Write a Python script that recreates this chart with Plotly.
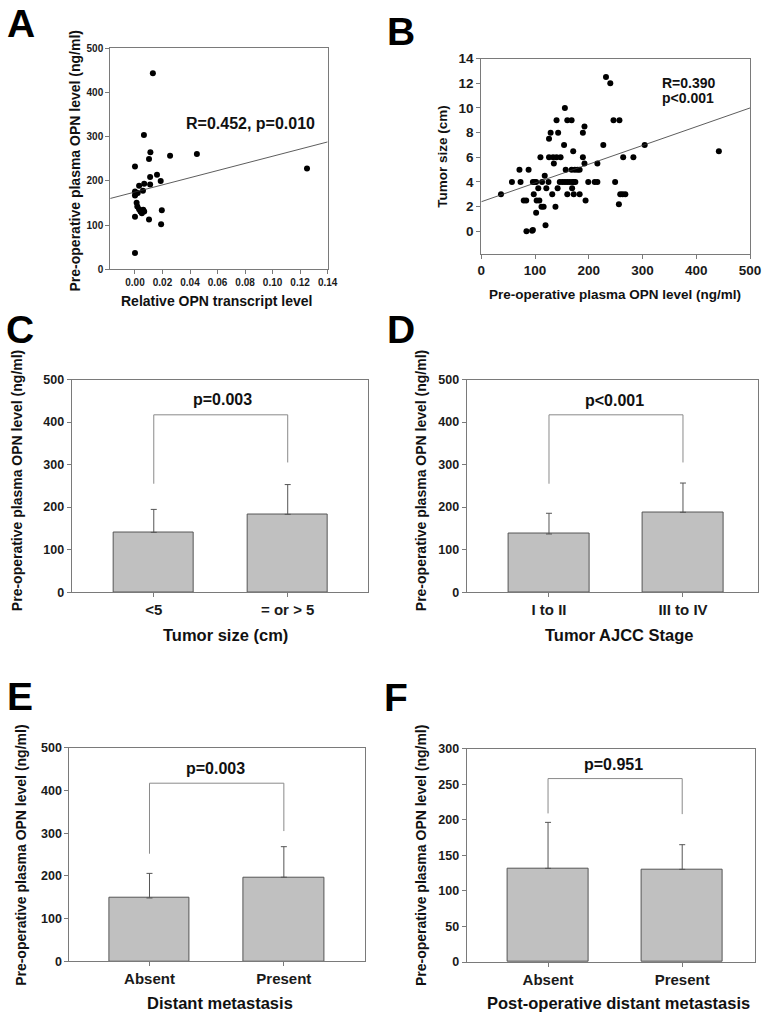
import plotly.graph_objects as go

W, H = 777, 1022
FONT = "Liberation Sans, Arial, sans-serif"
YTITLE = "Pre-operative plasma OPN level (ng/ml)"

# ---------------- Panel A data ----------------
a_transcript = [0.013, 0.0065, 0.0112, 0.0102, 0.0255, 0.045, 0.125, 0.0, 0.016, 0.011,
                0.0187, 0.011, 0.0067, 0.003, 0.0058, 0.0, 0.0004, 0.002, 0.0, 0.0012,
                0.0017, 0.003, 0.004, 0.005, 0.0067, 0.006, 0.0, 0.0102, 0.0195, 0.019, 0.0]
a_opn = [444, 304, 265, 250, 257, 261, 228, 233, 214, 209,
         200, 192, 194, 189, 178, 176, 170, 173, 167, 151,
         142, 136, 131, 127, 131, 135, 119, 113, 134, 102, 37]
a_fit_intercept, a_fit_slope = 175, 810
a_fit_x = [-0.018, 0.14]
a_label = "R=0.452, p=0.010"

# ---------------- Panel B data ----------------
b_opn = [232, 240, 442, 155.5, 140, 160, 168, 246, 257, 192, 129, 143, 189, 126, 154, 227, 304,
         171, 110, 126, 133.5, 140, 147.5, 189, 264, 283, 135, 192, 216, 71, 88, 157, 168, 174,
         179, 183, 118, 57, 73, 96, 99, 102, 113, 125, 146, 151, 155.5, 160, 164.6, 169.5, 172,
         175, 199, 211, 216, 249, 106, 121, 142, 169, 36.6, 97.6, 132, 160, 172, 183, 258.5, 263,
         268, 79, 83.5, 103, 108, 194, 112, 116, 138, 256, 102, 119.5, 84, 94.5, 96]
b_size = [12.5, 12, 6.5, 10, 9, 9, 9, 9, 9, 8.5, 8, 8, 8, 7.5, 7, 7, 7,
          6.5, 6, 6, 6, 6, 6, 6, 6, 6, 5.5, 5.5, 5.5, 5, 5, 5, 5, 5,
          5, 5, 4.5, 4, 4, 4, 4, 4, 4, 4, 4, 4, 4, 4, 4, 4, 4,
          4, 4, 4, 4, 4, 3.5, 3.5, 3.5, 3.5, 3, 3, 3, 3, 3, 3, 3, 3,
          3, 2.5, 2.5, 2.5, 2.5, 2.5, 2, 2, 2, 2.2, 1.5, 0.5, 0, 0.05, 0.1]
b_fit_intercept, b_fit_slope = 2.4, 0.0152
b_fit_x = [0, 500]
b_label1, b_label2 = "R=0.390", "p<0.001"

# ---------------- Bar panels ----------------
c_cats = ["<5", "= or > 5"]
c_mean = [140.6, 183]
c_err = [54, 70]
c_bracket = [255, 305, 417]
c_p = "p=0.003"
c_xtitle = "Tumor size (cm)"

d_cats = ["I to II", "III to IV"]
d_mean = [136.8, 187.8]
d_err = [48.7, 68.8]
d_bracket = [255, 305, 417]
d_p = "p<0.001"
d_xtitle = "Tumor AJCC Stage"

e_cats = ["Absent", "Present"]
e_mean = [148.5, 197]
e_err = [57.5, 71.5]
e_bracket = [252, 305, 417]
e_p = "p=0.003"
e_xtitle = "Distant metastasis"

f_cats = ["Absent", "Present"]
f_mean = [131.7, 130.3]
f_err = [64.7, 34.7]
f_bracket = [209, 208, 258]
f_p = "p=0.951"
f_xtitle = "Post-operative distant metastasis"


def px_x(a, b):
    return [a / W, b / W]


def px_y(top, bottom):
    return [1 - bottom / H, 1 - top / H]


AX_LINE = "#7a7a7a"
TICK_COL = "#1a1a1a"


def axis(domain, anchor, size=10, **kw):
    d = dict(domain=domain, anchor=anchor, showline=True, mirror=True, linecolor=AX_LINE,
             linewidth=1, ticks="outside", ticklen=4, tickcolor=AX_LINE, showgrid=False,
             zeroline=False, tickfont=dict(family=FONT, size=size, color=TICK_COL, weight="bold"))
    d.update(kw)
    return d


fig = go.Figure()
annotations = []


def add_text(text, x, y, size, xref="paper", yref="paper", textangle=0, xanchor="center",
             color="#111111"):
    annotations.append(dict(text=text, x=x, y=y, xref=xref, yref=yref, showarrow=False,
                            textangle=textangle, xanchor=xanchor, yanchor="middle",
                            font=dict(family=FONT, size=size, color=color, weight="bold")))


def pxa(x, y):
    return x / W, 1 - y / H


# Panel A
fig.add_trace(go.Scatter(x=a_transcript, y=a_opn, mode="markers", xaxis="x", yaxis="y",
                         marker=dict(color="black", size=6), showlegend=False))
fig.add_trace(go.Scatter(x=a_fit_x, y=[a_fit_intercept + a_fit_slope * v for v in a_fit_x],
                         mode="lines", xaxis="x", yaxis="y",
                         line=dict(color="#333333", width=0.8), showlegend=False))
# Panel B
fig.add_trace(go.Scatter(x=b_opn, y=b_size, mode="markers", xaxis="x2", yaxis="y2",
                         marker=dict(color="black", size=6), showlegend=False))
fig.add_trace(go.Scatter(x=b_fit_x, y=[b_fit_intercept + b_fit_slope * v for v in b_fit_x],
                         mode="lines", xaxis="x2", yaxis="y2",
                         line=dict(color="#333333", width=0.8), showlegend=False))

bar_panels = [
    ("x3", "y3", c_cats, c_mean, c_err, c_bracket, c_p),
    ("x4", "y4", d_cats, d_mean, d_err, d_bracket, d_p),
    ("x5", "y5", e_cats, e_mean, e_err, e_bracket, e_p),
    ("x6", "y6", f_cats, f_mean, f_err, f_bracket, f_p),
]
for xa, ya, cats, mean, err, br, ptxt in bar_panels:
    fig.add_trace(go.Bar(x=cats, y=mean, xaxis=xa, yaxis=ya, width=0.6,
                         marker=dict(color="#c0c0c0", line=dict(color="#555555", width=1)),
                         error_y=dict(type="data", array=err, arrayminus=[0, 0], symmetric=False,
                                      color="#555555", thickness=1, width=3),
                         showlegend=False))
    fig.add_trace(go.Scatter(x=[cats[0], cats[0], cats[1], cats[1]],
                             y=[br[0], br[2], br[2], br[1]], mode="lines", xaxis=xa, yaxis=ya,
                             line=dict(color="#8a8a8a", width=1), showlegend=False))

BX, BY = 15, 12.5
layout = dict(
    width=W, height=H, autosize=False, margin=dict(l=0, r=0, t=0, b=0, pad=0),
    paper_bgcolor="white", plot_bgcolor="white", bargap=0,
    xaxis=axis(px_x(108.3, 330), "y", size=10, range=[-0.018, 0.14], tick0=0, dtick=0.02,
               tickformat=".2f"),
    yaxis=axis(px_y(42, 266), "x", size=10, range=[0, 500], dtick=100),
    xaxis2=axis(px_x(486.7, 760.7), "y2", size=13.5, range=[0, 500], dtick=100),
    yaxis2=axis(px_y(52.3, 250), "x2", size=13.5, range=[-1.8, 14], tick0=0, dtick=2),
    xaxis3=axis(px_x(69, 370.7), "y3", size=BX, type="category", range=[-0.613, 1.596]),
    yaxis3=axis(px_y(377.7, 593.3), "x3", size=BY, range=[0, 500], dtick=100),
    xaxis4=axis(px_x(471.7, 769), "y4", size=BX, type="category", range=[-0.615, 1.561]),
    yaxis4=axis(px_y(377.7, 593.3), "x4", size=BY, range=[0, 500], dtick=100),
    xaxis5=axis(px_x(66.7, 367.7), "y5", size=BX, type="category", range=[-0.596, 1.601]),
    yaxis5=axis(px_y(751, 967.7), "x5", size=BY, range=[0, 500], dtick=100),
    xaxis6=axis(px_x(471.7, 765.7), "y6", size=BX, type="category", range=[-0.607, 1.542]),
    yaxis6=axis(px_y(752, 968.3), "x6", size=BY, range=[0, 300], dtick=50),
)

# Panel letters
for letter, x, y in [("A", 17, 17), ("B", 405, 25), ("C", 16, 327), ("D", 405, 327),
                     ("E", 16, 699), ("F", 400, 700)]:
    add_text(letter, *pxa(x, y), 39, color="black")

# Axis titles
add_text(YTITLE, *pxa(72, 156), 14, textangle=-90)
add_text("Relative OPN transcript level", *pxa(217, 298), 14)
add_text("Tumor size (cm)", *pxa(447.5, 151), 13.5, textangle=-90)
add_text(YTITLE, *pxa(623, 291), 13.5)
add_text(YTITLE, *pxa(14, 480), 14, textangle=-90)
add_text(c_xtitle, *pxa(226, 637), 16.5)
add_text(YTITLE, *pxa(426, 480), 14, textangle=-90)
add_text(d_xtitle, *pxa(628, 637), 16.5)
add_text(YTITLE, *pxa(18, 860), 14, textangle=-90)
add_text(e_xtitle, *pxa(220, 1010), 16.5)
add_text(YTITLE, *pxa(425, 860), 14, textangle=-90)
add_text(f_xtitle, *pxa(627, 1010), 16.5)

# Statistics labels in data coordinates
add_text(a_label, 0.0838, 330, 16, xref="x", yref="y")
add_text(b_label1, 332, 12.0, 14, xref="x2", yref="y2", xanchor="left")
add_text(b_label2, 332, 10.8, 14, xref="x2", yref="y2", xanchor="left")
add_text(c_p, 0.51, 452, 16, xref="x3", yref="y3")
add_text(d_p, 0.49, 450, 16, xref="x4", yref="y4")
add_text(e_p, 0.49, 451, 16, xref="x5", yref="y5")
add_text(f_p, 0.49, 278, 16, xref="x6", yref="y6")

layout["annotations"] = annotations
fig.update_layout(**layout)
fig.write_html("out.html",
               config={"responsive": False, "displayModeBar": False},
               post_script="document.body.style.margin='0';document.body.style.overflow='hidden';")
